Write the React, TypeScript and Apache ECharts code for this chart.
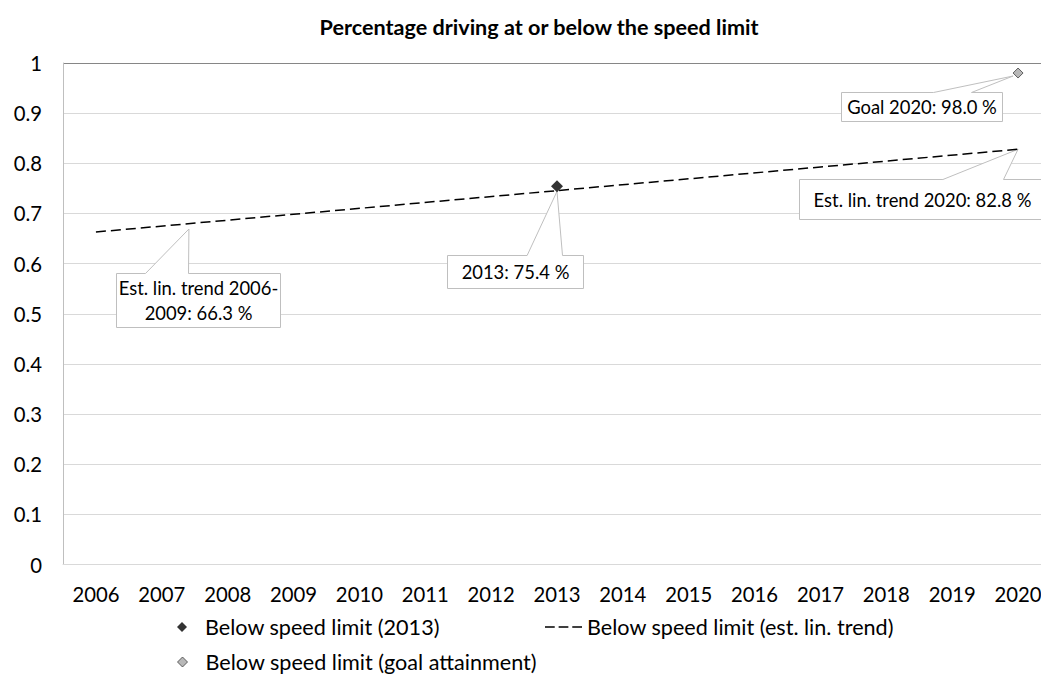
import { useEffect, useRef } from "react";
import * as echarts from "echarts";

// ---- data ----
const years = ["2006", "2007", "2008", "2009", "2010", "2011", "2012", "2013", "2014", "2015", "2016", "2017", "2018", "2019", "2020"];
const observed2013: (number | null)[] = [null, null, null, null, null, null, null, 0.754, null, null, null, null, null, null, null];
const trendLine: (number | null)[] = [0.663, null, null, null, null, null, null, null, null, null, null, null, null, null, 0.828];
const goal2020: (number | null)[] = [null, null, null, null, null, null, null, null, null, null, null, null, null, null, 0.98];

const SERIES_OBSERVED = "Below speed limit (2013)";
const SERIES_TREND = "Below speed limit (est. lin. trend)";
const SERIES_GOAL = "Below speed limit (goal attainment)";
const TITLE = "Percentage driving at or below the speed limit";

const FONT = "Lato, 'Open Sans', sans-serif";
const AXIS_FONT_SIZE = 20.3;
const LEGEND_FONT_SIZE = 21.6;
const CALLOUT_FONT_SIZE = 18.4;
const TITLE_FONT_SIZE = 21.6;
const DASH_ICON = "path://M0,0h10v1.4h-10z M14,0h10v1.4h-10z M28,0h10v1.4h-10z";

const pct = (v: number) => `${(v * 100).toFixed(1)} %`;

// Callout boxes: box/tip/wedge are pixel offsets relative to the anchored point
type Callout = {
  values: (number | null)[];
  index: number;
  label: (v: number) => string;
  box: [number, number, number, number];
  tip: [number, number];
  wedge: [number, number];
};

const CALLOUTS: Callout[] = [
  { values: trendLine, index: 0, label: (v) => `Est. lin. trend 2006-\n2009: ${pct(v)}`, box: [20, 40.5, 164, 54], tip: [93, -3], wedge: [29, 72] },
  { values: observed2013, index: 7, label: (v) => `2013: ${pct(v)}`, box: [-109.6, 68.5, 136, 33], tip: [0, 5], wedge: [79.6, 115] },
  { values: goal2020, index: 14, label: (v) => `Goal 2020: ${pct(v)}`, box: [-176.7, 19, 161, 29], tip: [-5, 3], wedge: [92, 130] },
  { values: trendLine, index: 14, label: (v) => `Est. lin. trend 2020: ${pct(v)}`, box: [-219, 30, 246, 40], tip: [0, 0], wedge: [143.4, 204] },
];

const crisp = (n: number) => Math.round(n) + 0.5;

function buildCallouts(chart: echarts.ECharts) {
  const els: any[] = [];
  CALLOUTS.forEach((c) => {
    const v = c.values[c.index] as number;
    const [px, py] = chart.convertToPixel({ gridIndex: 0 }, [c.index, v]) as number[];
    const L = crisp(px + c.box[0]);
    const T = crisp(py + c.box[1]);
    const R = crisp(px + c.box[0] + c.box[2]);
    const B = crisp(py + c.box[1] + c.box[3]);
    const tip = [px + c.tip[0], py + c.tip[1]];
    els.push({
      type: "polygon",
      z: 1,
      silent: true,
      shape: { points: [[L, T], [L + c.wedge[0], T], tip, [L + c.wedge[1], T], [R, T], [R, B], [L, B]] },
      style: { fill: "#ffffff", stroke: "#bfbfbf", lineWidth: 1 },
    });
    els.push({
      type: "text",
      z: 2,
      silent: true,
      x: (L + R) / 2,
      y: (T + B) / 2,
      style: {
        text: c.label(v),
        fill: "#000000",
        fontFamily: FONT,
        fontSize: CALLOUT_FONT_SIZE,
        lineHeight: 25,
        align: "center",
        verticalAlign: "middle",
        textAlign: "center",
        textVerticalAlign: "middle",
      },
    });
  });
  return els;
}

function titleLeft(centerX: number) {
  const ctx = document.createElement("canvas").getContext("2d");
  if (!ctx) return centerX - 220;
  ctx.font = `bold ${TITLE_FONT_SIZE}px ${FONT}`;
  return centerX - ctx.measureText(TITLE).width / 2;
}

const legendText = { color: "#000000", fontFamily: FONT, fontSize: LEGEND_FONT_SIZE };

export default function App() {
  const ref = useRef<HTMLDivElement>(null);

  useEffect(() => {
    if (!ref.current) return;
    const chart = echarts.init(ref.current, undefined, { renderer: "svg" });
    const gridLineColors = Array.from({ length: 11 }, (_, i) => (i === 10 ? "#868686" : "#d9d9d9"));

    chart.setOption({
      animation: false,
      backgroundColor: "#ffffff",
      textStyle: { fontFamily: FONT },
      title: {
        text: TITLE,
        left: titleLeft(539.5),
        top: 16,
        padding: 0,
        textStyle: { fontFamily: FONT, fontSize: TITLE_FONT_SIZE, fontWeight: "bold", color: "#000000" },
      },
      grid: { left: 63, top: 63, width: 988, height: 501.5, containLabel: false, outerBoundsMode: "none" },
      xAxis: {
        type: "category",
        data: years,
        boundaryGap: true,
        axisLine: { show: true, lineStyle: { color: "#d9d9d9", width: 1 } },
        axisTick: { show: false },
        axisLabel: { color: "#000000", fontFamily: FONT, fontSize: AXIS_FONT_SIZE, margin: 19, interval: 0 },
        splitLine: { show: false },
      },
      yAxis: {
        type: "value",
        min: 0,
        max: 1,
        interval: 0.1,
        axisLine: { show: true, lineStyle: { color: "#bfbfbf", width: 1 } },
        axisTick: { show: false },
        axisLabel: {
          color: "#000000",
          fontFamily: FONT,
          fontSize: AXIS_FONT_SIZE,
          margin: 21,
          formatter: (v: number) => (v === 0 || v === 1 ? String(v) : v.toFixed(1)),
        },
        splitLine: { show: true, lineStyle: { color: gridLineColors, width: 1 } },
      },
      legend: [
        {
          left: 177,
          top: 616,
          padding: 0,
          selectedMode: false,
          itemWidth: 10,
          itemHeight: 10,
          data: [{ name: SERIES_OBSERVED, icon: "diamond", itemStyle: { color: "#000000", borderWidth: 0 } }],
          textStyle: { ...legendText, padding: [0, 0, 0, 13] },
        },
        {
          left: 545,
          top: 616,
          padding: 0,
          selectedMode: false,
          itemWidth: 37,
          itemHeight: 1.4,
          data: [{ name: SERIES_TREND, icon: DASH_ICON, itemStyle: { color: "#000000", borderWidth: 0 } }],
          textStyle: { ...legendText },
        },
        {
          left: 177,
          top: 651,
          padding: 0,
          selectedMode: false,
          itemWidth: 10,
          itemHeight: 10,
          data: [{ name: SERIES_GOAL, icon: "diamond", itemStyle: { color: "#a6a6a6", borderColor: "#404040", borderWidth: 1 } }],
          textStyle: { ...legendText, padding: [0, 0, 0, 13] },
        },
      ],
      series: [
        {
          name: SERIES_TREND,
          type: "line",
          data: trendLine,
          connectNulls: true,
          symbol: "none",
          z: 3,
          itemStyle: { color: "#000000" },
          lineStyle: { color: "#000000", width: 1.5, type: [10, 5] },
        },
        {
          name: SERIES_OBSERVED,
          type: "scatter",
          data: observed2013,
          symbol: "diamond",
          symbolSize: 12,
          z: 4,
          itemStyle: { color: "#000000" },
        },
        {
          name: SERIES_GOAL,
          type: "scatter",
          data: goal2020,
          symbol: "diamond",
          symbolSize: 10,
          z: 4,
          itemStyle: { color: "#a6a6a6", borderColor: "#404040", borderWidth: 1 },
        },
      ],
    });

    chart.setOption({ graphic: buildCallouts(chart) });

    return () => chart.dispose();
  }, []);

  return <div ref={ref} style={{ position: "absolute", left: 0, top: 0, width: 1041, height: 675 }} />;
}
